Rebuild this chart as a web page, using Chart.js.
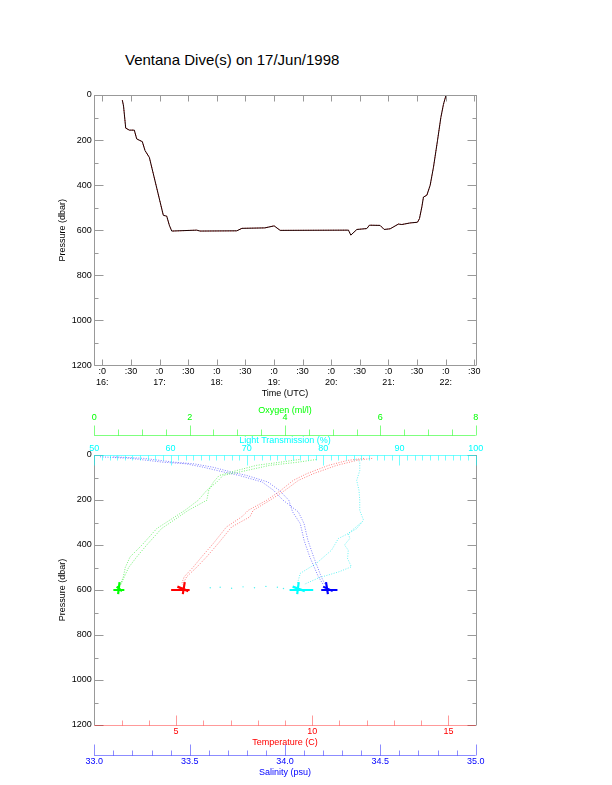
<!DOCTYPE html>
<html>
<head>
<meta charset="utf-8">
<script src="https://cdn.jsdelivr.net/npm/chart.js@4.4.0/dist/chart.umd.min.js"></script>
<style>
body { margin: 0; background: #fff; width: 612px; height: 785px; position: relative; overflow: hidden; }
#title { position: absolute; left: 125px; top: 52px; font: 15px/15px "Liberation Sans", Arial, sans-serif; color: #000; white-space: nowrap; }
canvas { position: absolute; left: 0; }
#dive { top: 0; }
#profile { top: 400px; }
</style>
</head>
<body>
<div id="title">Ventana Dive(s) on 17/Jun/1998</div>
<canvas id="dive" width="612" height="400"></canvas>
<canvas id="profile" width="612" height="385"></canvas>
<script>
// dive track: time (hours UTC) vs pressure (dbar)
const diveTime = [16.350, 16.371, 16.409, 16.472, 16.559, 16.601, 16.699, 16.747, 16.822, 17.066,
    17.126, 17.171, 17.213, 17.650, 17.708, 18.350, 18.44, 18.84, 19.003, 19.108,
    20.301, 20.343, 20.448, 20.622, 20.668, 20.855, 20.925, 21.030, 21.175, 21.234,
    21.379, 21.507, 21.542, 21.584, 21.612, 21.671, 21.729, 21.787, 21.857, 21.916,
    21.962, 22.003];
const divePressure = [23, 49, 147, 156, 156, 195, 207, 247, 277, 534,
    538, 578, 604, 600, 604, 603, 592, 590, 581, 601,
    600, 622, 597, 593, 578, 579, 597, 594, 573, 575,
    568, 565, 549, 497, 453, 445, 401, 321, 203, 100,
    41, 4];

// profiles
const oxyP = [20, 32, 46, 69, 91, 120, 157, 201, 246, 327, 400, 453, 500, 541, 575];
const oxyDown = [4.66, 4.27, 3.68, 3.19, 2.70, 2.57, 2.36, 2.18, 1.90, 1.31, 1.00, 0.75, 0.65, 0.61, 0.55];
const oxyUp = [4.30, 3.90, 3.40, 2.99, 2.62, 2.50, 2.40, 2.36, 1.97, 1.41, 1.10, 0.89, 0.72, 0.63, 0.56];

const tempP = [15, 24, 46, 83, 113, 157, 201, 246, 275, 320, 393, 453, 500, 541, 575];
const tempDown = [12.2, 11.63, 10.9, 10.04, 9.49, 9.0, 8.45, 7.83, 7.71, 7.04, 6.55, 6.12, 5.75, 5.39, 5.25];
const tempUp = [11.9, 11.3, 10.6, 9.8, 9.3, 8.85, 8.33, 7.65, 7.41, 6.85, 6.37, 5.94, 5.62, 5.30, 5.20];

const salP = [8, 15, 32, 39, 54, 76, 91, 120, 157, 201, 253, 305, 379, 453, 541, 575];
const salDown = [33.03, 33.19, 33.36, 33.48, 33.57, 33.68, 33.76, 33.88, 33.94, 33.99, 34.07, 34.10, 34.12, 34.15, 34.19, 34.21];
const salUp = [33.10, 33.26, 33.42, 33.52, 33.62, 33.72, 33.80, 33.91, 33.97, 34.02, 34.04, 34.08, 34.10, 34.13, 34.175, 34.20];

const lightDownP = [17, 32, 69, 113, 157, 201, 246, 290, 327, 349, 371, 423, 482, 526, 575];
const lightDown = [84.4, 84.8, 84.8, 84.4, 84.7, 84.8, 84.8, 85.3, 84.4, 83.3, 82.0, 81.1, 79.1, 77.0, 76.6];
const lightUpP = [300, 349, 371, 400, 423, 460, 497, 520, 545, 575];
const lightUp = [85.0, 83.3, 83.5, 82.8, 83.3, 83.2, 83.7, 82.0, 79.5, 77.5];
const lightFloorP = [590, 588, 592, 586, 590, 584, 588, 593];
const lightFloor = [65.2, 66.5, 68.0, 69.5, 71.0, 72.5, 74.0, 74.8];

// bottom clusters (null breaks the line)
const clusterP = [600, 600, null, 565, 618, null, 585, 605];
const oxyCluster = [0.40, 0.63, null, 0.53, 0.50, null, 0.47, 0.58];
const tempCluster = [4.82, 5.50, null, 5.32, 5.25, null, 5.05, 5.45];
const salCluster = [34.19, 34.275, null, 34.215, 34.225, null, 34.20, 34.25];
const lightCluster = [75.6, 78.7, null, 76.8, 76.6, null, 76.0, 77.6];

// tick labels
const timeTicks = [16, 16.5, 17, 17.5, 18, 18.5, 19, 19.5, 20, 20.5, 21, 21.5, 22, 22.5];
const pressureTicks = [0, 200, 400, 600, 800, 1000, 1200];
const tempTicks = [5, 10, 15];
const salTicks = [33.0, 33.5, 34.0, 34.5, 35.0];
const oxyTicks = [0, 2, 4, 6, 8];
const lightTicks = [50, 60, 70, 80, 90, 100];

Chart.defaults.font.family = '"Liberation Sans", Arial, sans-serif';
Chart.defaults.font.size = 9;
Chart.defaults.color = '#000';

const pts = (xs, ys) => xs.map((x, i) => ({ x: x, y: ys[i] }));

const markList = (major, step, lo, hi, lenMajor, lenMinor) => {
    const out = [];
    for (let v = lo; v <= hi + 1e-9; v += step) {
        const r = Math.round(v * 1000) / 1000;
        out.push([r, major.some(m => Math.abs(m - r) < 1e-6) ? lenMajor : lenMinor]);
    }
    return out;
};

// axis lines and inward tick marks
function edgeMarks(specs) {
    return {
        id: 'edgeMarks',
        afterDraw(chart) {
            const ctx = chart.ctx;
            const area = chart.chartArea;
            ctx.save();
            ctx.lineWidth = 1;
            specs.forEach(sp => {
                const s = chart.scales[sp.scale];
                let base = { top: area.top, bottom: area.bottom, left: area.left, right: area.right,
                    scaleTop: s.top, scaleBottom: s.bottom }[sp.at];
                base = Math.round(base) + 0.5;
                const horiz = s.isHorizontal();
                ctx.strokeStyle = sp.color;
                ctx.beginPath();
                if (horiz) { ctx.moveTo(area.left, base); ctx.lineTo(area.right, base); }
                else { ctx.moveTo(base, area.top); ctx.lineTo(base, area.bottom); }
                sp.ticks.forEach(([v, len]) => {
                    const p = Math.round(s.getPixelForValue(v)) + 0.5;
                    if (horiz) { ctx.moveTo(p, base); ctx.lineTo(p, base + sp.dir * len); }
                    else { ctx.moveTo(base, p); ctx.lineTo(base + sp.dir * len, p); }
                });
                ctx.stroke();
            });
            ctx.restore();
        }
    };
}

const pressureMarks = markList(pressureTicks, 100, 0, 1200, 9, 4);
const timeMarks = timeTicks.map(v => [v, 6]);

const pressureAxis = {
    type: 'linear', position: 'left', reverse: true, min: 0, max: 1200,
    afterBuildTicks: s => { s.ticks = pressureTicks.map(v => ({ value: v })); },
    afterFit: s => { s.width = 94.3; },
    grid: { display: false, drawTicks: false },
    border: { display: false },
    ticks: { padding: 2.5, color: '#000', callback: v => String(v) },
    title: { display: true, text: 'Pressure (dbar)', color: '#000', padding: { top: 57, bottom: 0 } }
};

// top: dive track
new Chart(document.getElementById('dive'), {
    type: 'line',
    data: {
        datasets: [
            { data: pts(diveTime, divePressure), borderColor: '#1a0000', borderWidth: 1, pointRadius: 0, tension: 0 },
            { data: pts(diveTime, divePressure), borderColor: 'rgba(255,40,40,0.9)', borderDash: [1, 1.5], borderWidth: 1, pointRadius: 0, tension: 0 }
        ]
    },
    options: {
        responsive: false,
        animation: false,
        layout: { padding: { left: 0, right: 136.3, top: 95, bottom: 1.3 } },
        plugins: { legend: { display: false }, tooltip: { enabled: false } },
        scales: {
            x: {
                type: 'linear', position: 'bottom', min: 15.86, max: 22.525,
                afterBuildTicks: s => { s.ticks = timeTicks.map(v => ({ value: v })); },
                afterFit: s => { s.height = 33.4; },
                grid: { display: false, drawTicks: false },
                border: { display: false },
                ticks: {
                    padding: 0.8, autoSkip: false, maxRotation: 0, color: '#000',
                    font: { lineHeight: 1.2 },
                    callback: v => Number.isInteger(v) ? [':0', v + ':'] : ':30'
                },
                title: { display: true, text: 'Time (UTC)', color: '#000', padding: 0 }
            },
            y: pressureAxis
        }
    },
    plugins: [edgeMarks([
        { scale: 'x', at: 'bottom', dir: -1, color: '#999', ticks: timeMarks },
        { scale: 'x', at: 'top', dir: 1, color: '#999', ticks: timeMarks },
        { scale: 'y', at: 'left', dir: 1, color: '#999', ticks: pressureMarks },
        { scale: 'y', at: 'right', dir: -1, color: '#999', ticks: pressureMarks }
    ])]
});

// bottom: profiles
const branch = (xs, ys, axis, color) => ({
    data: pts(xs, ys), xAxisID: axis, yAxisID: 'y', showLine: true,
    borderColor: color, borderWidth: 1, borderDash: [1, 1.5], pointRadius: 0, tension: 0
});
const cluster = (xs, axis, color) => ({
    data: pts(xs, clusterP), xAxisID: axis, yAxisID: 'y', showLine: true, spanGaps: false,
    borderColor: color, borderWidth: 2.2, pointRadius: 0, tension: 0
});

const topAxis = (min, max, ticks, text, color, weight, height, pad) => ({
    type: 'linear', axis: 'x', position: 'top', weight: weight, min: min, max: max,
    afterBuildTicks: s => { s.ticks = ticks.map(v => ({ value: v })); },
    afterFit: s => { s.height = height; },
    grid: { display: false, drawTicks: false },
    border: { display: false },
    ticks: { padding: pad, color: color, autoSkip: false, maxRotation: 0 },
    title: { display: true, text: text, color: color, padding: 0 }
});

new Chart(document.getElementById('profile'), {
    type: 'scatter',
    data: {
        datasets: [
            branch(oxyDown, oxyP, 'oxy', 'rgba(0,230,0,0.55)'),
            branch(oxyUp, oxyP, 'oxy', 'rgba(0,230,0,0.55)'),
            branch(tempDown, tempP, 'temp', 'rgba(255,0,0,0.5)'),
            branch(tempUp, tempP, 'temp', 'rgba(255,0,0,0.5)'),
            branch(salDown, salP, 'sal', 'rgba(0,0,255,0.5)'),
            branch(salUp, salP, 'sal', 'rgba(0,0,255,0.5)'),
            branch(lightDown, lightDownP, 'light', 'rgba(0,235,235,0.6)'),
            branch(lightUp, lightUpP, 'light', 'rgba(0,235,235,0.6)'),
            { data: pts(lightFloor, lightFloorP), xAxisID: 'light', yAxisID: 'y', pointRadius: 0.7,
              pointBorderWidth: 0, pointBackgroundColor: 'rgba(0,235,235,0.7)' },
            cluster(oxyCluster, 'oxy', '#00ff00'),
            cluster(tempCluster, 'temp', '#ff0000'),
            cluster(salCluster, 'sal', '#0000ff'),
            cluster(lightCluster, 'light', '#00ffff')
        ]
    },
    options: {
        responsive: false,
        animation: false,
        layout: { padding: { left: 0, right: 136.3, top: 5, bottom: 7.3 } },
        plugins: { legend: { display: false }, tooltip: { enabled: false } },
        scales: {
            y: pressureAxis,
            light: topAxis(50, 100, lightTicks, 'Light Transmission (%)', '#00ffff', 0, 20, 0.6),
            oxy: topAxis(0, 8, oxyTicks, 'Oxygen (ml/l)', '#00ff00', 1, 30, 12.1),
            temp: {
                type: 'linear', axis: 'x', position: 'bottom', weight: 0, min: 2, max: 16,
                afterBuildTicks: s => { s.ticks = tempTicks.map(v => ({ value: v })); },
                afterFit: s => { s.height = 30; },
                grid: { display: false, drawTicks: false },
                border: { display: false },
                ticks: { padding: 1.6, color: '#ff0000', autoSkip: false, maxRotation: 0 },
                title: { display: true, text: 'Temperature (C)', color: '#ff0000', padding: { top: 0, bottom: 7 } }
            },
            sal: {
                type: 'linear', axis: 'x', position: 'bottom', weight: 1, min: 33, max: 35,
                afterBuildTicks: s => { s.ticks = salTicks.map(v => ({ value: v })); },
                afterFit: s => { s.height = 22.7; },
                grid: { display: false, drawTicks: false },
                border: { display: false },
                ticks: { padding: 1.3, color: '#0000ff', autoSkip: false, maxRotation: 0, callback: v => v.toFixed(1) },
                title: { display: true, text: 'Salinity (psu)', color: '#0000ff', padding: 0 }
            }
        }
    },
    plugins: [edgeMarks([
        { scale: 'y', at: 'left', dir: 1, color: '#999', ticks: pressureMarks },
        { scale: 'y', at: 'right', dir: -1, color: '#999', ticks: pressureMarks },
        { scale: 'temp', at: 'bottom', dir: -1, color: 'rgba(255,0,0,0.4)', ticks: markList(tempTicks, 1, 3, 15, 10, 5) },
        { scale: 'sal', at: 'scaleTop', dir: -1, color: 'rgba(0,0,255,0.45)', ticks: markList(salTicks, 0.1, 33, 35, 11, 5) },
        { scale: 'light', at: 'top', dir: 1, color: 'rgba(0,255,255,0.55)', ticks: markList(lightTicks, 1, 50, 100, 10, 5) },
        { scale: 'oxy', at: 'scaleBottom', dir: -1, color: 'rgba(0,255,0,0.5)', ticks: markList(oxyTicks, 0.5, 0, 8, 10, 6) }
    ])]
});
</script>
</body>
</html>
